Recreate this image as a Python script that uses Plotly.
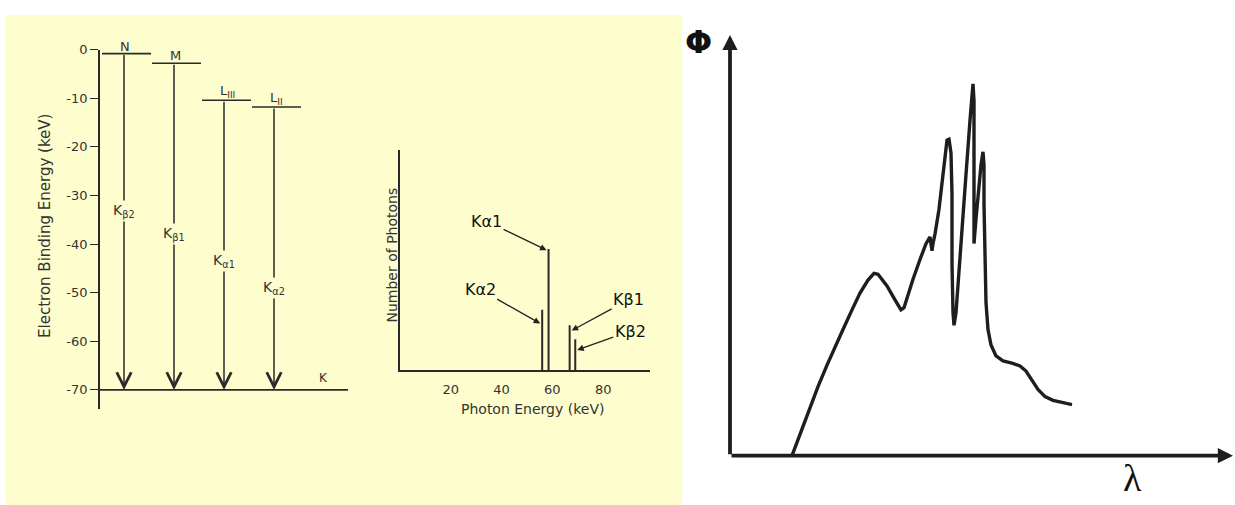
import plotly.graph_objects as go

W, H = 1235, 505

# ---------------- Panel 1: electron binding energy levels (keV) ----------------
shell_names = ["N", "M", "L<sub>III</sub>", "L<sub>II</sub>"]
shell_energy = [-0.8, -2.8, -10.4, -11.8]
k_shell_name = "K"
k_energy = -70.0
transition_names = ["K<sub>β2</sub>", "K<sub>β1</sub>", "K<sub>α1</sub>", "K<sub>α2</sub>"]
transition_label_energy = [-33.2, -37.9, -43.5, -49.0]
binding_ticks = [0, -10, -20, -30, -40, -50, -60, -70]

# ---------------- Panel 2: characteristic line spectrum ----------------
line_names = ["Kα2", "Kα1", "Kβ1", "Kβ2"]
line_energy = [56.0, 58.5, 66.8, 69.0]
line_counts = [27.4, 55.0, 20.3, 13.9]
energy_ticks = [20, 40, 60, 80]

# ---------------- Panel 3: spectrum sketch (arbitrary units) ----------------
wavelength = [12.4, 14.0, 16.0, 17.6, 19.4, 21.0, 22.6, 24.4, 26.0, 27.6, 28.8, 29.6,
              31.4, 33.0, 34.2, 34.8, 35.6, 36.6, 38.0, 39.2, 40.0, 40.4, 40.6, 41.0,
              41.8, 42.4, 43.0, 43.4, 43.8, 44.2, 44.4, 44.4, 44.6, 44.8, 45.2, 45.6,
              46.4, 47.2, 48.0, 48.4, 48.6, 48.8, 48.8, 48.8, 48.8, 49.2, 49.6, 50.2,
              50.6, 50.8, 50.8, 51.0, 51.2, 51.6, 52.2, 53.2, 54.6, 56.4, 58.0, 59.2,
              60.4, 61.6, 63.0, 64.6, 66.4, 68.4]
flux = [0.0, 5.2, 11.3, 16.5, 21.6, 26.1, 30.1, 34.8, 38.8, 41.9, 43.5, 43.3,
        40.5, 37.2, 34.8, 35.3, 38.4, 42.1, 46.8, 50.6, 52.2, 48.9, 50.6, 52.9,
        58.8, 64.7, 71.8, 75.3, 75.5, 72.2, 62.4, 45.9, 34.1, 31.1, 34.1, 41.2,
        52.9, 67.1, 80.0, 87.1, 88.7, 84.7, 69.4, 55.3, 50.6, 56.5, 62.4, 69.4,
        72.5, 69.4, 60.0, 45.9, 36.5, 30.1, 26.4, 23.8, 22.6, 22.1, 21.4, 20.2,
        18.1, 15.8, 14.1, 13.2, 12.7, 12.2]

# ---------------- styles ----------------
YELLOW = "#FEFDCD"
INK = "#2a2a2a"
TXT = "#333333"
SCAN_FONT = "DejaVu Sans"


def px_x(p):
    return p / W


def px_y(p):
    return 1 - p / H


fig = go.Figure()

# Panel 1 traces: shell levels + K level
lvl_x, lvl_y = [], []
for i, e in enumerate(shell_energy):
    lvl_x += [i + 0.04, i + 1.02, None]
    lvl_y += [e, e, None]
lvl_x += [0, 4.96]
lvl_y += [k_energy, k_energy]
fig.add_trace(go.Scatter(x=lvl_x, y=lvl_y, mode="lines", xaxis="x", yaxis="y",
                         line=dict(color=INK, width=1.6), hoverinfo="skip",
                         showlegend=False, cliponaxis=False))

# Panel 2 traces: vertical emission lines
sp_x, sp_y = [], []
for e, c in zip(line_energy, line_counts):
    sp_x += [e, e, None]
    sp_y += [0, c, None]
fig.add_trace(go.Scatter(x=sp_x, y=sp_y, mode="lines", xaxis="x2", yaxis="y2",
                         line=dict(color=INK, width=2), hoverinfo="skip",
                         showlegend=False))

# Panel 3 trace: spectrum curve
fig.add_trace(go.Scatter(x=wavelength, y=flux, mode="lines", xaxis="x3", yaxis="y3",
                         line=dict(color="#1e1e1e", width=3.4), hoverinfo="skip",
                         showlegend=False, cliponaxis=False))

annotations = []


def paper_text(px, py, text, size, family=SCAN_FONT, color=TXT, angle=0, weight="normal"):
    return dict(x=px_x(px), y=px_y(py), xref="paper", yref="paper", text=text,
                showarrow=False, xanchor="center", yanchor="middle",
                textangle=angle,
                font=dict(family=family, size=size, color=color, weight=weight))


# Panel 1: transition arrows
arrow_x = [i + 0.48 for i in range(len(shell_energy))]
for xa, e in zip(arrow_x, shell_energy):
    annotations.append(dict(x=xa, y=k_energy, ax=xa, ay=e, xref="x", yref="y",
                            axref="x", ayref="y", text="", showarrow=True,
                            arrowhead=5, arrowsize=1.9, arrowwidth=1.5,
                            arrowcolor=INK, standoff=0))
# transition labels (cover the arrow shaft)
for xa, e, t in zip(arrow_x, transition_label_energy, transition_names):
    annotations.append(dict(x=xa, y=e, xref="x", yref="y", text=t, showarrow=False,
                            xanchor="center", yanchor="middle",
                            bgcolor=YELLOW, borderpad=1,
                            font=dict(family=SCAN_FONT, size=14, color=TXT)))
# shell names
for xa, e, t in zip(arrow_x, shell_energy, shell_names):
    annotations.append(dict(x=xa, y=e, xref="x", yref="y", text=t, showarrow=False,
                            xanchor="left", yanchor="bottom", xshift=-6, yshift=-2,
                            font=dict(family=SCAN_FONT, size=13, color=TXT)))
annotations.append(dict(x=4.46, y=k_energy, xref="x", yref="y", text=k_shell_name,
                        showarrow=False, xanchor="center", yanchor="bottom", yshift=3,
                        font=dict(family=SCAN_FONT, size=12, color=TXT)))
annotations.append(paper_text(45, 222, "Electron Binding Energy (keV)", 15, angle=-90))

# Panel 2: labelled arrows
head_frac = [0.77, 0.99, 0.88, 0.65]
head_shift = [-2, -2, 2, 2]
label_off = [(-60, -34), (-60, -29), (57, -31), (53, -19)]
for name, e, c, f, s, (oa, ob) in zip(line_names, line_energy, line_counts,
                                      head_frac, head_shift, label_off):
    annotations.append(dict(x=e, y=c * f, xref="x2", yref="y2", text=name,
                            showarrow=True, ax=oa, ay=ob, xshift=s,
                            arrowhead=2, arrowsize=1, arrowwidth=1.3,
                            arrowcolor="#222222", standoff=0,
                            font=dict(family=SCAN_FONT, size=16, color="#111111")))
annotations.append(paper_text(532, 408, "Photon Energy (keV)", 14))
annotations.append(paper_text(392, 252, "Number of Photons", 14, angle=-90))

# Panel 3: arrowed axes and symbols
annotations.append(dict(x=100.6, y=0, ax=0, ay=0, xref="x3", yref="y3",
                        axref="x3", ayref="y3", text="", showarrow=True,
                        arrowhead=2, arrowsize=0.8, arrowwidth=3.8,
                        arrowcolor="#1e1e1e", standoff=0))
annotations.append(dict(x=0, y=100.4, ax=0, ay=0, xref="x3", yref="y3",
                        axref="x3", ayref="y3", text="", showarrow=True,
                        arrowhead=2, arrowsize=0.8, arrowwidth=3.8,
                        arrowcolor="#1e1e1e", standoff=0))
annotations.append(paper_text(698, 35, "Φ", 32, family="DejaVu Sans", color="#111111",
                              weight="bold"))
annotations.append(paper_text(1132, 478, "λ", 38, family="Liberation Serif",
                              color="#111111"))

fig.update_layout(
    width=W, height=H,
    margin=dict(l=0, r=0, t=0, b=0),
    paper_bgcolor="white",
    plot_bgcolor="rgba(0,0,0,0)",
    showlegend=False,
    shapes=[dict(type="rect", xref="paper", yref="paper",
                 x0=px_x(6), x1=px_x(682), y0=0, y1=px_y(8),
                 fillcolor=YELLOW, line=dict(width=0), layer="below")],
    annotations=annotations,
    # panel 1
    xaxis=dict(domain=[px_x(100), px_x(350)], range=[0, 5], visible=False,
               anchor="y", fixedrange=True),
    yaxis=dict(domain=[px_y(408), px_y(43.3)], range=[-74, 0], anchor="x",
               showline=True, linecolor=INK, linewidth=1.6,
               ticks="outside", ticklen=8, tickwidth=1.4, tickcolor=INK,
               tickvals=binding_ticks, ticktext=[str(v) for v in binding_ticks],
               tickfont=dict(family=SCAN_FONT, size=13, color=TXT),
               showgrid=False, zeroline=False, fixedrange=True),
    # panel 2
    xaxis2=dict(domain=[px_x(399.8), px_x(650)], range=[0, 98.4], anchor="y2",
                showline=True, linecolor=INK, linewidth=1.6,
                ticks="outside", ticklen=7, tickcolor="rgba(0,0,0,0)",
                tickvals=energy_ticks, ticktext=[str(v) for v in energy_ticks],
                tickfont=dict(family=SCAN_FONT, size=13, color=TXT),
                showgrid=False, zeroline=False, fixedrange=True),
    yaxis2=dict(domain=[px_y(368), px_y(145)], range=[0, 100], anchor="x2",
                showline=True, linecolor=INK, linewidth=1.6,
                showticklabels=False, ticks="", showgrid=False, zeroline=False,
                fixedrange=True),
    # panel 3
    xaxis3=dict(domain=[px_x(730), 1.0], range=[0, 101], anchor="y3",
                visible=False, fixedrange=True),
    yaxis3=dict(domain=[px_y(455), px_y(30)], range=[0, 100], anchor="x3",
                visible=False, fixedrange=True),
)

fig.write_html("out.html", config={"displayModeBar": False},
               post_script="document.body.style.margin='0';document.body.style.overflow='hidden';")
